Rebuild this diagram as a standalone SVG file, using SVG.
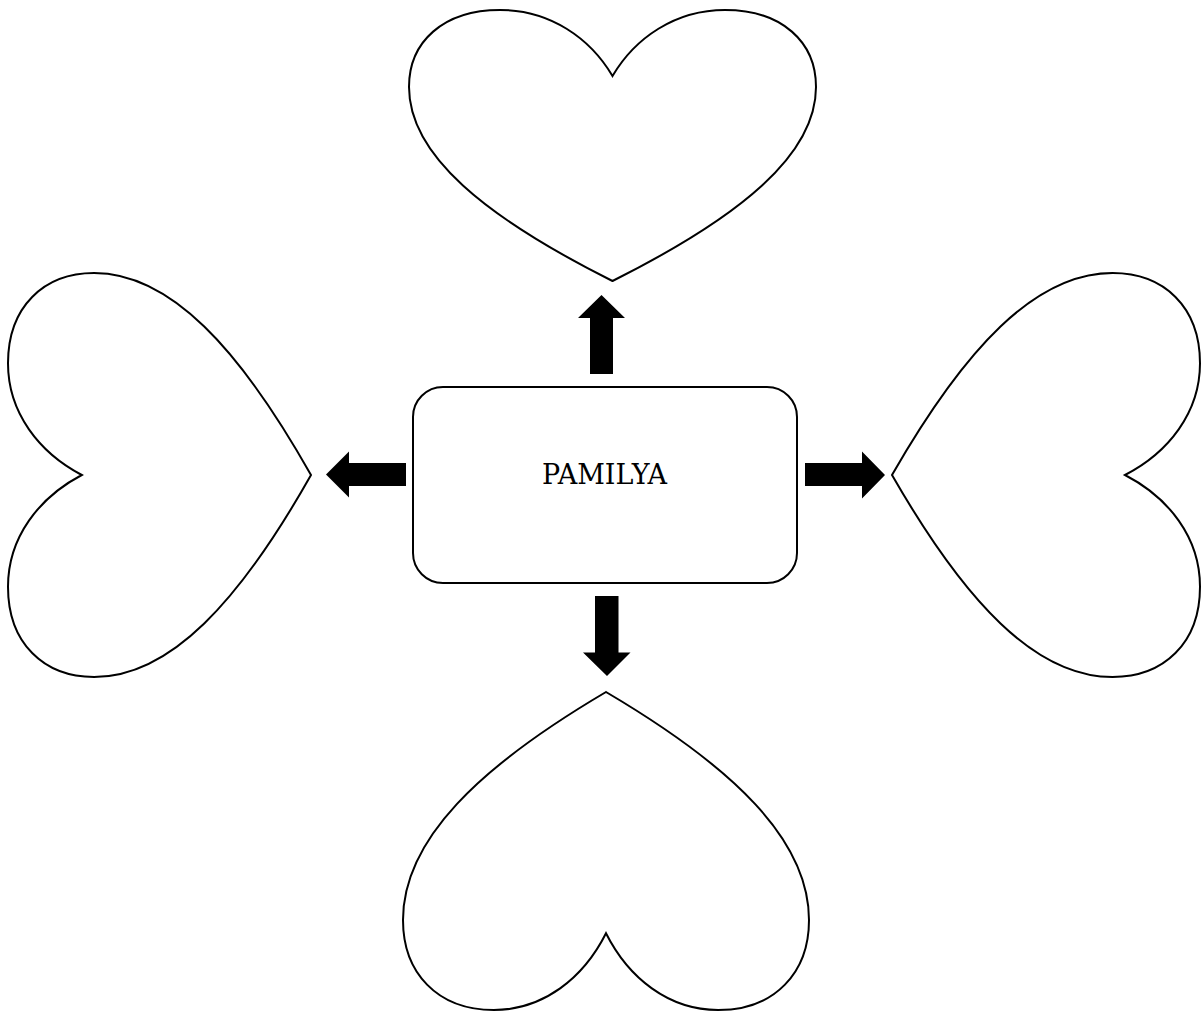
<svg xmlns="http://www.w3.org/2000/svg" width="1203" height="1012" viewBox="0 0 1203 1012">
<style>
.heart{fill:#fff;stroke:#000;stroke-width:2;stroke-linejoin:miter}
.box{fill:#fff;stroke:#000;stroke-width:2}
.arrow{fill:#000;stroke:none}
.label{font-family:"DejaVu Serif","Liberation Serif",serif;font-size:27px;fill:#000;text-anchor:middle}
</style>
<rect x="0" y="0" width="1203" height="1012" fill="#fff"/>
<g id="heart-top">
<path class="heart" d="M612.5,76 C590,38 550,10 500,10 C443,10 409,42 409,87 C409,155 485,217 612.5,281 C740,217 816,155 816,87 C816,42 782,10 725,10 C675,10 635,38 612.5,76 Z"/>
</g>
<g id="heart-bottom">
<path class="heart" d="M606,933.3 C583.5,978 543.6,1010 493.8,1010 C436.9,1010 403,972.4 403,920 C403,840 478.8,767 606,692 C733.2,767 809,840 809,920 C809,972.4 775.1,1010 718.2,1010 C668.4,1010 628.5,978 606,933.3 Z"/>
</g>
<g id="heart-left">
<path class="heart" d="M81.8,475 C39.3,452.7 8,412.9 8,363.3 C8,306.7 43.8,273 94.1,273 C170.1,273 239.5,348.4 311,475 C239.5,601.6 170.1,677 94.1,677 C43.8,677 8,643.3 8,586.7 C8,537.1 39.3,497.3 81.8,475 Z"/>
</g>
<g id="heart-right">
<path class="heart" d="M1125,475 C1168.2,452.7 1200,412.9 1200,363.3 C1200,306.7 1163.7,273 1112.5,273 C1035.2,273 964.7,348.4 892,475 C964.7,601.6 1035.2,677 1112.5,677 C1163.7,677 1200,643.3 1200,586.7 C1200,537.1 1168.2,497.3 1125,475 Z"/>
</g>
<g id="center">
<rect class="box" x="413" y="387" width="384" height="196" rx="30" ry="30"/>
<text class="label" x="604.5" y="484">PAMILYA</text>
</g>
<g id="connectors">
<polygon class="arrow" points="590,374 613,374 613,318 625,318 601.5,295 578,318 590,318"/>
<polygon class="arrow" points="805,463 862,463 862,451.5 885,475 862,498.5 862,486 805,486"/>
<polygon class="arrow" points="595,596 618.5,596 618.5,652.5 630.5,652.5 607,676 583,652.5 595,652.5"/>
<polygon class="arrow" points="406,463 349,463 349,451.5 326,474.5 349,497.5 349,486 406,486"/>
</g>
</svg>
